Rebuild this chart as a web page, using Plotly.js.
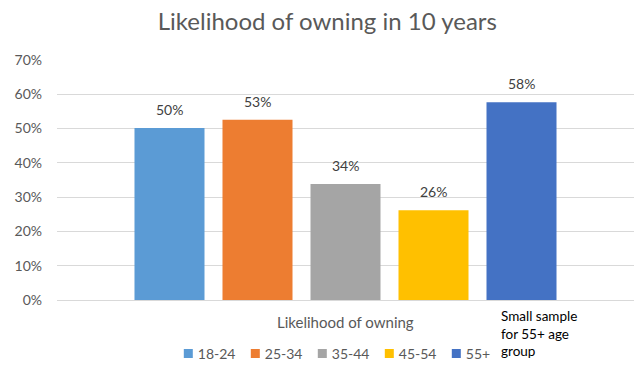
<!DOCTYPE html>
<html>
<head>
<meta charset="utf-8">
<script src="https://cdn.plot.ly/plotly-3.0.1.min.js"></script>
<style>html,body{margin:0;padding:0;background:#fff;}#chart{width:638px;height:365px;}</style>
</head>
<body>
<div id="chart"></div>
<script>
const category = ["Likelihood of owning"];
const seriesNames = ["18-24", "25-34", "35-44", "45-54", "55+"];
const seriesValues = [0.502, 0.526, 0.338, 0.262, 0.577];
const seriesColors = ["#5B9BD5", "#ED7D31", "#A5A5A5", "#FFC000", "#4472C4"];
const yTickVals = [0, 0.1, 0.2, 0.3, 0.4, 0.5, 0.6, 0.7];
const noteText = "Small sample<br>for 55+ age<br>group";

const FONT = "Lato, 'Open Sans', sans-serif";
const W = 638, H = 365;
const margin = {l: 57, r: 4, t: 60, b: 65, autoexpand: false};
const bargap = 0.2374, bargroupgap = 0.2045;
const plotW = W - margin.l - margin.r;
const slotPx = plotW * (1 - bargap) / seriesNames.length;

const traces = seriesNames.map((n, i) => ({
  type: "bar",
  name: n,
  x: category,
  y: [seriesValues[i]],
  marker: {color: seriesColors[i]},
  hoverinfo: "none"
}));

const labelAnns = seriesValues.map((v, i) => ({
  xref: "x", yref: "y", x: category[0], y: v,
  xshift: (i - (seriesNames.length - 1) / 2) * slotPx,
  yshift: 8, yanchor: "bottom", xanchor: "center",
  text: Math.round(v * 100) + "%", showarrow: false,
  font: {family: FONT, size: 14, color: "#404040"}
}));

const layout = {
  width: W, height: H,
  margin: margin,
  paper_bgcolor: "#fff", plot_bgcolor: "#fff",
  font: {family: FONT, color: "#595959"},
  title: {text: "Likelihood of owning in 10 years", font: {family: FONT, size: 24, color: "#595959"}, x: 0.513, xanchor: "center", y: 0.94, yanchor: "middle"},
  barmode: "group",
  bargap: bargap,
  bargroupgap: bargroupgap,
  xaxis: {showticklabels: false, showgrid: false, zeroline: false, showline: false},
  yaxis: {range: [0, 0.7], tickvals: yTickVals, tickformat: ".0%",
    showgrid: true, gridcolor: "#D9D9D9", gridwidth: 1, zeroline: true, zerolinecolor: "#D9D9D9", zerolinewidth: 1,
    tickfont: {family: FONT, size: 14, color: "#595959"}, ticks: "", ticklen: 0, ticklabelstandoff: 14,
    showline: false, automargin: false},
  showlegend: true,
  legend: {orientation: "h", x: 0.465, xanchor: "center", y: -0.225, yanchor: "middle",
    font: {family: FONT, size: 14, color: "#595959"}, entrywidth: 22, entrywidthmode: "pixels", tracegroupgap: 0},
  annotations: labelAnns.concat([
    {xref: "paper", yref: "paper", x: 0.5, xanchor: "center", y: -0.092, yanchor: "middle",
     text: category[0], showarrow: false, font: {family: FONT, size: 15, color: "#595959"}},
    {xref: "paper", yref: "paper", x: 0.766, xanchor: "left", y: -0.025, yanchor: "top",
     text: noteText, showarrow: false, align: "left", font: {family: FONT, size: 13.5, color: "#000"}}
  ])
};
Plotly.newPlot("chart", traces, layout, {displayModeBar: false, staticPlot: true}).then(function () {
  // Excel-style small legend swatches sitting close to their labels
  document.querySelectorAll("#chart .legend .legendsymbols").forEach(function (g) {
    g.setAttribute("transform", "translate(15.5,0) scale(0.75)");
  });
});
</script>
</body>
</html>
